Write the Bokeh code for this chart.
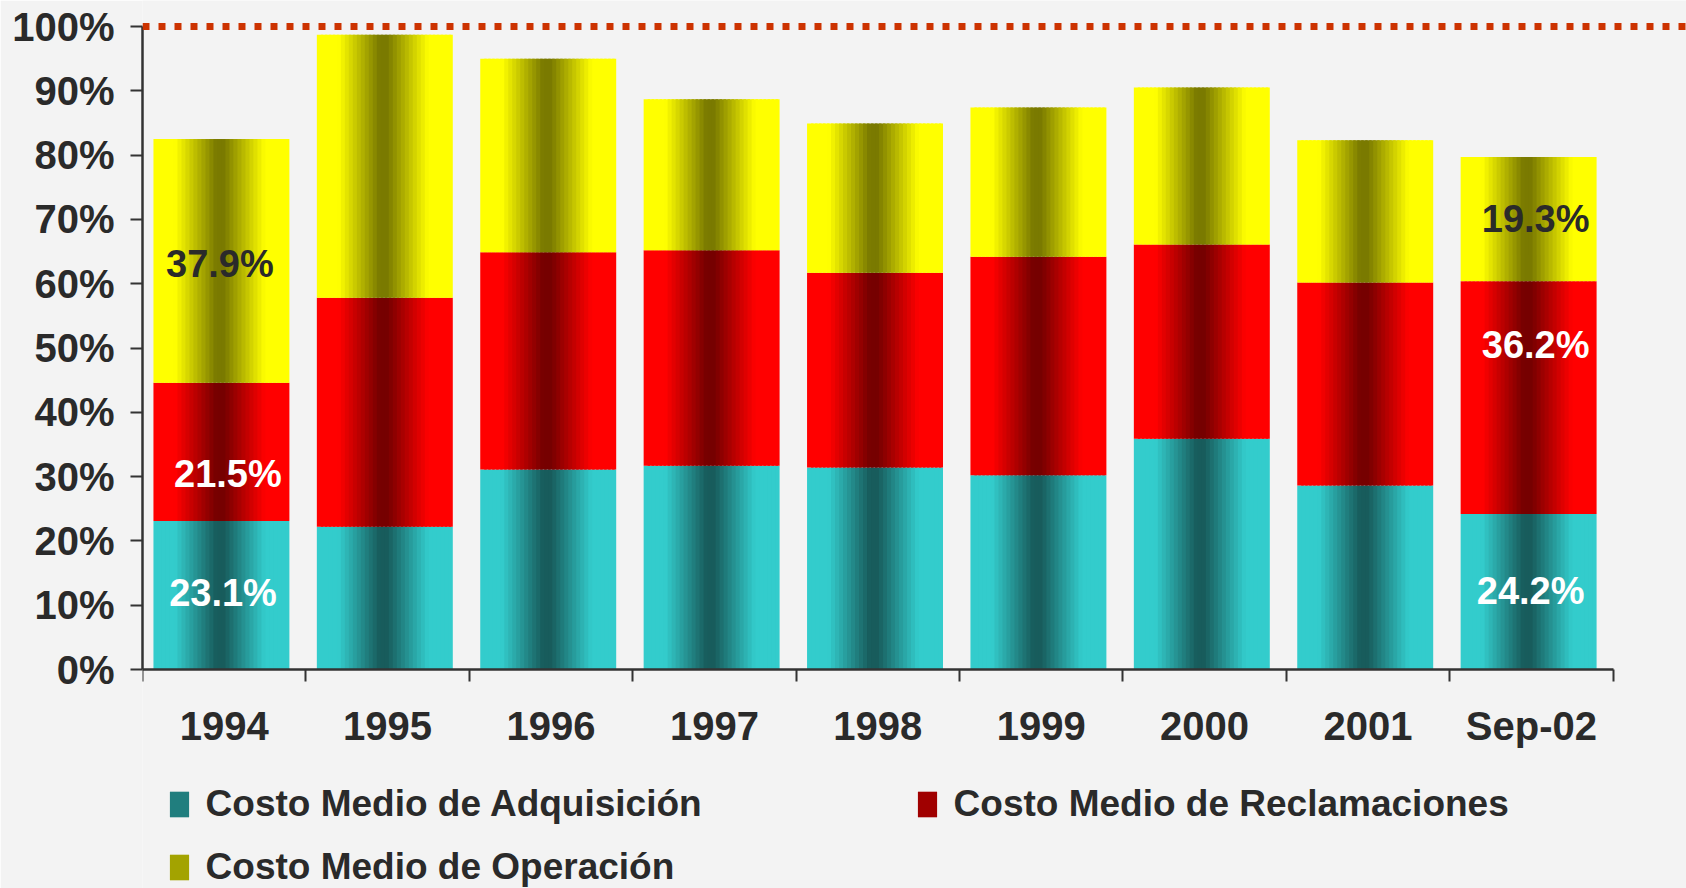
import numpy as np
from bokeh.plotting import figure
from bokeh.models import (ColumnDataSource, Range1d, FixedTicker, PrintfTickFormatter,
                          Span, Legend, LegendItem)
from bokeh.core.properties import value
from bokeh.embed import file_html
from bokeh.resources import INLINE

# ---------------- data ----------------
categories = ["1994", "1995", "1996", "1997", "1998", "1999", "2000", "2001", "Sep-02"]
adquisicion = [23.1, 22.2, 31.1, 31.7, 31.4, 30.2, 35.9, 28.6, 24.2]
reclamaciones = [21.5, 35.6, 33.8, 33.5, 30.3, 34.0, 30.2, 31.6, 36.2]
operacion = [37.9, 40.9, 30.1, 23.5, 23.2, 23.2, 24.4, 22.1, 19.3]
series_names = ["Costo Medio de Adquisición", "Costo Medio de Reclamaciones",
                "Costo Medio de Operación"]
labelled_categories = ["1994", "Sep-02"]
y_ticks = [0, 10, 20, 30, 40, 50, 60, 70, 80, 90, 100]
limit_line = 100

# ---------------- styles ----------------
FONT = value("Liberation Sans")
TEXT = "#2a2a2a"
BG = "#f3f3f3"
edge_colors = [(51, 204, 204), (255, 0, 0), (255, 255, 0)]
dark_colors = [(24, 92, 92), (118, 0, 0), (122, 122, 0)]
label_colors = ["#ffffff", "#ffffff", TEXT]
BAR_OFFSET = 0.483
BAR_WIDTH = 0.832
N_STRIPS = 34

W, H = 1686, 888
left_border = 142
px_per_cat = 163.4
x_end = (W - left_border) / px_per_cat
px_per_pct = 6.43
zero_px = 669
y_end = 100 + 26 / px_per_pct
y_start = -(H - zero_px) / px_per_pct

p = figure(width=W, height=H, output_backend="svg", toolbar_location=None,
           x_range=Range1d(0, x_end), y_range=Range1d(y_start, y_end),
           min_border_left=left_border, min_border_right=0, min_border_top=0,
           min_border_bottom=0)
p.background_fill_color = BG
p.border_fill_color = BG
p.outline_line_color = None
p.grid.visible = False

# ---------------- gradient bars as narrow strips ----------------
def shade(edge, dark, t):
    d = abs(t - 0.49)
    f = min(1.0, max(0.0, (d - 0.03) / 0.30))
    c = [int(round(dk + (e - dk) * f)) for e, dk in zip(edge, dark)]
    return "#%02x%02x%02x" % tuple(c)

series = [adquisicion, reclamaciones, operacion]
bottoms = np.zeros(len(categories))
renderers = []
for si, vals in enumerate(series):
    L, R, B, T, C = [], [], [], [], []
    for ci in range(len(categories)):
        x0 = ci + BAR_OFFSET - BAR_WIDTH / 2
        step = BAR_WIDTH / N_STRIPS
        for k in range(N_STRIPS):
            l = x0 + k * step
            r = min(l + step * 1.6, x0 + BAR_WIDTH)
            L.append(l); R.append(r)
            B.append(bottoms[ci]); T.append(bottoms[ci] + vals[ci])
            C.append(shade(edge_colors[si], dark_colors[si], (k + 0.5) / N_STRIPS))
    bottoms = bottoms + np.array(vals)
    src = ColumnDataSource(dict(left=L, right=R, bottom=B, top=T, color=C))
    renderers.append(p.quad(left="left", right="right", bottom="bottom", top="top",
                            fill_color="color", line_color=None, source=src))

# ---------------- 100% dotted line ----------------
p.add_layout(Span(location=limit_line, dimension="width", line_color="#cc3300",
                  line_width=7, line_dash="7 9"))

# ---------------- value labels ----------------
label_dx = {("1994", 0): 1.6, ("1994", 1): 6.5, ("1994", 2): -1.5,
            ("Sep-02", 0): 2, ("Sep-02", 1): 7, ("Sep-02", 2): 7}
label_dy = {("1994", 0): -2, ("1994", 1): 22, ("1994", 2): 3,
            ("Sep-02", 0): -1, ("Sep-02", 1): -53, ("Sep-02", 2): 0}
lx, ly, lt, lc, ldx, ldy = [], [], [], [], [], []
for cat in labelled_categories:
    ci = categories.index(cat)
    base = 0.0
    for si, vals in enumerate(series):
        v = vals[ci]
        lx.append(ci + BAR_OFFSET); ly.append(base + v / 2)
        lt.append("%.1f%%" % v); lc.append(label_colors[si])
        ldx.append(label_dx[(cat, si)]); ldy.append(label_dy[(cat, si)])
        base += v
labels = ColumnDataSource(dict(x=lx, y=ly, text=lt, color=lc, dx=ldx, dy=ldy))
p.text(x="x", y="y", text="text", text_color="color", x_offset="dx", y_offset="dy",
       source=labels, text_font=FONT, text_font_style="bold", text_font_size="38px",
       text_align="center", text_baseline="middle")

# ---------------- axes ----------------
yax = p.yaxis[0]
yax.ticker = FixedTicker(ticks=y_ticks, minor_ticks=[])
yax.formatter = PrintfTickFormatter(format="%d%%")
yax.bounds = (0, 100)
yax.major_tick_out = 12
yax.major_tick_in = 0
yax.major_label_standoff = 16
for ax in (p.xaxis[0], yax):
    ax.axis_line_color = "#333333"
    ax.axis_line_width = 2.5
    ax.major_label_text_font = "Liberation Sans"
    ax.major_label_text_font_style = "bold"
    ax.major_label_text_font_size = "40px"
    ax.major_label_text_color = TEXT
yax.major_tick_line_color = "#333333"
yax.major_tick_line_width = 2

xax = p.xaxis[0]
xax.fixed_location = 0
xax.bounds = (0, len(categories))
centers = [i + 0.5 for i in range(len(categories))]
xax.ticker = FixedTicker(ticks=centers, minor_ticks=list(range(len(categories) + 1)))
xax.major_label_overrides = {c: cat for c, cat in zip(centers, categories)}
xax.major_tick_line_color = None
xax.major_tick_out = 0
xax.major_tick_in = 0
xax.minor_tick_out = 12
xax.minor_tick_in = 0
xax.minor_tick_line_color = "#333333"
xax.minor_tick_line_width = 2
xax.major_label_standoff = 22

# ---------------- legend ----------------
legend_index = int(0.36 * N_STRIPS)
items = [LegendItem(label=name, renderers=[r], index=legend_index)
         for name, r in zip(series_names, renderers)]
legend = Legend(items=items, orientation="horizontal", ncols=2, location=(24.6, 0),
                glyph_width=24, glyph_height=32, label_height=40, label_width=688,
                label_standoff=15, spacing=21, padding=0, margin=0,
                border_line_color=None, background_fill_alpha=0,
                label_text_font="Liberation Sans", label_text_font_style="bold",
                label_text_font_size="37px", label_text_color=TEXT)
p.add_layout(legend)

open("out.html", "w").write(file_html(p, INLINE))
